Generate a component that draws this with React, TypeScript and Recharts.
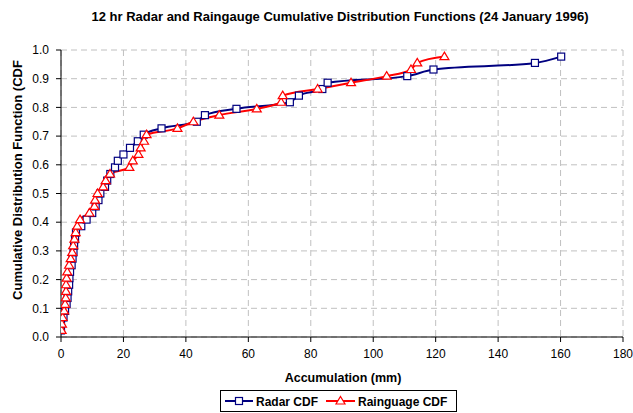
import React from 'react';
import { LineChart, Line, XAxis, YAxis, CartesianGrid } from 'recharts';

// Radar-derived 12 hr accumulations (mm), sorted, with their cumulative probabilities
const radarAccum = [
  0.0, 0.0, 0.8, 1.3, 1.8, 2.1, 2.3, 2.6, 2.7, 2.9,
  3.4, 3.7, 4.0, 4.2, 4.5, 4.8, 6.5, 8.2, 10.0, 11.1,
  12.0, 12.6, 14.1, 14.8, 15.8, 17.3, 18.2, 20.0, 22.1, 24.6,
  26.5, 32.2, 43.5, 46.1, 56.2, 73.3, 76.2, 83.7, 85.4, 110.9,
  119.3, 151.8, 160.2,
];
const radarCdf = [
  0.023, 0.045, 0.068, 0.091, 0.114, 0.136, 0.159, 0.182, 0.205, 0.227,
  0.25, 0.273, 0.295, 0.318, 0.341, 0.364, 0.386, 0.409, 0.432, 0.455,
  0.477, 0.5, 0.523, 0.545, 0.568, 0.591, 0.614, 0.636, 0.659, 0.682,
  0.705, 0.727, 0.75, 0.773, 0.795, 0.818, 0.841, 0.864, 0.886, 0.909,
  0.932, 0.955, 0.977,
];

// Raingauge 12 hr accumulations (mm), sorted, with their cumulative probabilities
const gaugeAccum = [
  0.2, 0.3, 0.5, 1.0, 1.3, 1.5, 1.6, 1.6, 1.8, 2.0,
  2.6, 3.1, 3.6, 3.9, 4.3, 4.7, 5.2, 6.1, 9.1, 10.7,
  10.9, 11.7, 13.5, 14.3, 15.7, 21.9, 23.0, 24.8, 25.5, 26.6,
  27.4, 37.3, 42.4, 50.7, 62.7, 70.5, 71.0, 82.2, 92.9, 104.3,
  112.1, 114.1, 122.8,
];
const gaugeCdf = [
  0.023, 0.045, 0.068, 0.091, 0.114, 0.136, 0.159, 0.182, 0.205, 0.227,
  0.25, 0.273, 0.295, 0.318, 0.341, 0.364, 0.386, 0.409, 0.432, 0.455,
  0.477, 0.5, 0.523, 0.545, 0.568, 0.591, 0.614, 0.636, 0.659, 0.682,
  0.705, 0.727, 0.75, 0.773, 0.795, 0.818, 0.841, 0.864, 0.886, 0.909,
  0.932, 0.955, 0.977,
];

const xTicks = [0, 20, 40, 60, 80, 100, 120, 140, 160, 180];
const yTicks = [0, 0.1, 0.2, 0.3, 0.4, 0.5, 0.6, 0.7, 0.8, 0.9, 1.0];

const titleText = '12 hr Radar and Raingauge Cumulative Distribution Functions (24 January 1996)';
const xLabel = 'Accumulation (mm)';
const yLabel = 'Cumulative Distribution Function (CDF';
const radarName = 'Radar CDF';
const gaugeName = 'Rainguage CDF';

const RADAR = '#000080';
const GAUGE = '#ff0000';
const FONT = '"Liberation Sans", Arial, sans-serif';

const radarData = radarAccum.map((x, i) => ({ x, cdf: radarCdf[i] }));
const gaugeData = gaugeAccum.map((x, i) => ({ x, cdf: gaugeCdf[i] }));

const SquareDot = (props: any) => {
  const { cx, cy, index } = props;
  if (cx == null || cy == null) return <g key={`s${index}`} />;
  return (
    <rect key={`s${index}`} x={cx - 3.5} y={cy - 3.5} width={7} height={7}
      fill="#ffffff" stroke={RADAR} strokeWidth={1.2} />
  );
};

const TriangleDot = (props: any) => {
  const { cx, cy, index } = props;
  if (cx == null || cy == null) return <g key={`t${index}`} />;
  return (
    <path key={`t${index}`} d={`M${cx},${cy - 4.5} L${cx + 4.5},${cy + 3} L${cx - 4.5},${cy + 3} Z`}
      fill="#ffffff" stroke={GAUGE} strokeWidth={1.2} />
  );
};

export default function App() {
  return (
    <div style={{ position: 'absolute', left: 0, top: 0, width: 633, height: 413, background: '#ffffff' }}>
      <LineChart width={633} height={413} data={radarData}
        margin={{ top: 50, right: 10, left: 21, bottom: 46 }}>
        <CartesianGrid stroke="#c0c0c0" strokeDasharray="6 4" strokeWidth={1} />
        <XAxis type="number" dataKey="x" domain={[0, 180]} ticks={xTicks} allowDataOverflow
          height={30} tickSize={5} tickMargin={7}
          axisLine={{ stroke: '#000000' }} tickLine={{ stroke: '#000000' }}
          tick={{ fill: '#000000', fontSize: 12, fontFamily: FONT }} />
        <YAxis type="number" domain={[0, 1]} ticks={yTicks} allowDataOverflow
          width={40} tickSize={5} tickMargin={7}
          tickFormatter={(v: number) => v.toFixed(1)}
          axisLine={{ stroke: '#000000' }} tickLine={{ stroke: '#000000' }}
          tick={{ fill: '#000000', fontSize: 12, fontFamily: FONT }} />
        <Line data={radarData} dataKey="cdf" type="monotone" stroke={RADAR} strokeWidth={2}
          dot={SquareDot} activeDot={false} isAnimationActive={false} />
        <Line data={gaugeData} dataKey="cdf" type="monotone" stroke={GAUGE} strokeWidth={2}
          dot={TriangleDot} activeDot={false} isAnimationActive={false} />
      </LineChart>
      <svg width={633} height={413} style={{ position: 'absolute', left: 0, top: 0, pointerEvents: 'none' }}>
        <text x={340} y={21} textAnchor="middle" fontFamily={FONT} fontSize={13} fontWeight="bold" fill="#000000">
          {titleText}
        </text>
        <text x={343} y={382} textAnchor="middle" fontFamily={FONT} fontSize={12.5} fontWeight="bold" fill="#000000">
          {xLabel}
        </text>
        <text x={22} y={180} textAnchor="middle" fontFamily={FONT} fontSize={13} fontWeight="bold" fill="#000000"
          transform="rotate(-90 22 180)">
          {yLabel}
        </text>
        <rect x={220.5} y={390.5} width={236} height={21} fill="#ffffff" stroke="#000000" strokeWidth={1} />
        <line x1={225} y1={401} x2={253} y2={401} stroke={RADAR} strokeWidth={2} />
        <rect x={235.5} y={397.5} width={7} height={7} fill="#ffffff" stroke={RADAR} strokeWidth={1.2} />
        <text x={256} y={405.5} fontFamily={FONT} fontSize={12} fontWeight="bold" fill="#000000">{radarName}</text>
        <line x1={326} y1={401} x2={355} y2={401} stroke={GAUGE} strokeWidth={2} />
        <path d="M340.5,396.5 L345,404 L336,404 Z" fill="#ffffff" stroke={GAUGE} strokeWidth={1.2} />
        <text x={358} y={405.5} fontFamily={FONT} fontSize={12} fontWeight="bold" fill="#000000">{gaugeName}</text>
      </svg>
    </div>
  );
}
